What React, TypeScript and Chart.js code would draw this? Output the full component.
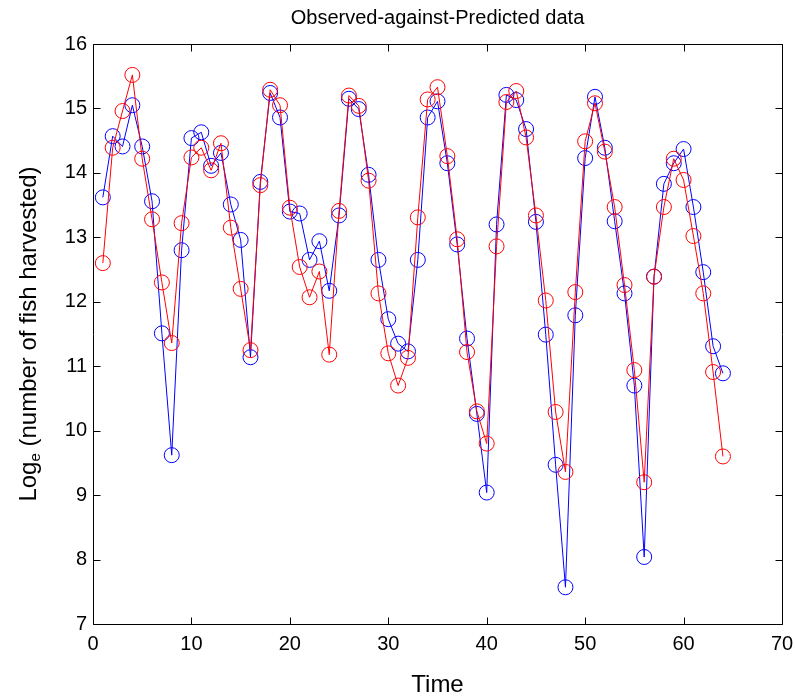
import React, { useEffect, useRef } from "react";
import { Chart, registerables } from "chart.js";

Chart.register(...registerables);

const timePoints = [
  1, 2, 3, 4, 5, 6, 7, 8, 9, 10, 11, 12, 13, 14, 15, 16, 17, 18, 19, 20, 21, 22, 23, 24, 25, 26, 27, 28, 29, 30, 31, 32,
  33, 34, 35, 36, 37, 38, 39, 40, 41, 42, 43, 44, 45, 46, 47, 48, 49, 50, 51, 52, 53, 54, 55, 56, 57, 58, 59, 60, 61,
  62, 63, 64,
];

const observed = [
  13.62, 14.57, 14.41, 15.05, 14.41, 13.56, 11.51, 9.62, 12.8, 14.54,
  14.63, 14.11, 14.31, 13.51, 12.96, 11.14, 13.86, 15.24, 14.86, 13.4,
  13.37, 12.65, 12.94, 12.17, 13.34, 15.15, 14.99, 13.97, 12.65, 11.73,
  11.35, 11.23, 12.65, 14.86, 15.11, 14.15, 12.89, 11.43, 10.26, 9.04,
  13.2, 15.21, 15.13, 14.68, 13.24, 11.49, 9.47, 7.57, 11.79, 14.23,
  15.18, 14.39, 13.25, 12.13, 10.7, 8.04, 12.39, 13.83, 14.15, 14.37,
  13.47, 12.46, 11.31, 10.89,
];

const predicted = [
  12.6, 14.39, 14.96, 15.52, 14.22, 13.28, 12.3, 11.36, 13.22, 14.24,
  14.39, 14.04, 14.46, 13.15, 12.2, 11.25, 13.81, 15.29, 15.05, 13.46,
  12.54, 12.07, 12.47, 11.18, 13.41, 15.2, 15.04, 13.88, 12.13, 11.2,
  10.7, 11.13, 13.31, 15.14, 15.33, 14.26, 12.97, 11.22, 10.3, 9.8,
  12.86, 15.1, 15.27, 14.55, 13.34, 12.02, 10.29, 9.36, 12.15, 14.49,
  15.08, 14.33, 13.47, 12.26, 10.94, 9.2, 12.39, 13.47, 14.22, 13.89,
  13.02, 12.13, 10.91, 9.6,
];

const xTicks = [0, 10, 20, 30, 40, 50, 60, 70];
const yTicks = [7, 8, 9, 10, 11, 12, 13, 14, 15, 16];

const titleText = "Observed-against-Predicted data";
const xTitle = "Time";
const yTitleMain = "Log";
const yTitleSub = "e";
const yTitleRest = " (number of fish harvested)";

const FONT = "'Liberation Sans', Arial, Helvetica, sans-serif";

const framePlugin = {
  id: "matlabFrame",
  afterDatasetsDraw(chart: any) {
    const { ctx, chartArea } = chart;
    const { left, right, top, bottom } = chartArea;
    const xs = chart.scales.x;
    const ys = chart.scales.y;
    ctx.save();
    ctx.strokeStyle = "#000";
    ctx.lineWidth = 1;
    ctx.beginPath();
    const L = Math.round(left) + 0.5;
    const R = Math.round(right) + 0.5;
    const T = Math.round(top) + 0.5;
    const B = Math.round(bottom) + 0.5;
    ctx.rect(L, T, R - L, B - T);
    const tl = 7;
    xTicks.forEach((v) => {
      const px = Math.round(xs.getPixelForValue(v)) + 0.5;
      ctx.moveTo(px, B);
      ctx.lineTo(px, B - tl);
      ctx.moveTo(px, T);
      ctx.lineTo(px, T + tl);
    });
    yTicks.forEach((v) => {
      const py = Math.round(ys.getPixelForValue(v)) + 0.5;
      ctx.moveTo(L, py);
      ctx.lineTo(L + tl, py);
      ctx.moveTo(R, py);
      ctx.lineTo(R - tl, py);
    });
    ctx.stroke();
    ctx.restore();
  },
  afterDraw(chart: any) {
    const { ctx, chartArea } = chart;
    ctx.save();
    ctx.fillStyle = "#000";
    ctx.font = `20px ${FONT}`;
    ctx.textAlign = "center";
    ctx.textBaseline = "middle";
    ctx.fillText(titleText, (chartArea.left + chartArea.right) / 2, 18);
    ctx.font = `24px ${FONT}`;
    ctx.fillText(xTitle, (chartArea.left + chartArea.right) / 2, 685);
    const mainFont = `24px ${FONT}`;
    const subFont = `15px ${FONT}`;
    ctx.font = mainFont;
    const w1 = ctx.measureText(yTitleMain).width;
    const w3 = ctx.measureText(yTitleRest).width;
    ctx.font = subFont;
    const w2 = ctx.measureText(yTitleSub).width;
    const total = w1 + w2 + w3;
    const cy = (chartArea.top + chartArea.bottom) / 2;
    ctx.translate(28, cy);
    ctx.rotate(-Math.PI / 2);
    ctx.textAlign = "left";
    ctx.textBaseline = "alphabetic";
    let x = -total / 2;
    const base = 8;
    ctx.font = mainFont;
    ctx.fillText(yTitleMain, x, base);
    x += w1;
    ctx.font = subFont;
    ctx.fillText(yTitleSub, x, base + 4);
    x += w2;
    ctx.font = mainFont;
    ctx.fillText(yTitleRest, x, base);
    ctx.restore();
  },
};

export default function App() {
  const canvasRef = useRef<HTMLCanvasElement | null>(null);

  useEffect(() => {
    if (!canvasRef.current) return;
    const toPts = (arr: number[]) => timePoints.map((t, i) => ({ x: t, y: arr[i] }));
    const chart = new Chart(canvasRef.current, {
      type: "line",
      data: {
        datasets: [
          {
            label: "Observed",
            data: toPts(observed),
            borderColor: "#0000ff",
            backgroundColor: "rgba(0,0,0,0)",
            borderWidth: 1,
            pointRadius: 7.5,
            pointBorderWidth: 1,
            pointBorderColor: "#0000ff",
            pointBackgroundColor: "rgba(0,0,0,0)",
            tension: 0,
            fill: false,
            order: 2,
          },
          {
            label: "Predicted",
            data: toPts(predicted),
            borderColor: "#ff0000",
            backgroundColor: "rgba(0,0,0,0)",
            borderWidth: 1,
            pointRadius: 7.5,
            pointBorderWidth: 1,
            pointBorderColor: "#ff0000",
            pointBackgroundColor: "rgba(0,0,0,0)",
            tension: 0,
            fill: false,
            order: 1,
          },
        ],
      },
      options: {
        animation: false,
        responsive: false,
        maintainAspectRatio: false,
        layout: { padding: { top: 44, right: 13, left: 0, bottom: 0 } },
        plugins: {
          legend: { display: false },
          tooltip: { enabled: false },
          title: { display: false },
        },
        scales: {
          x: {
            type: "linear",
            min: 0,
            max: 70,
            grid: { display: false, drawTicks: false },
            border: { display: false },
            afterFit: (scale: any) => {
              scale.height = 74;
              scale.paddingLeft = 0;
              scale.paddingRight = 0;
            },
            afterBuildTicks: (scale: any) => {
              scale.ticks = xTicks.map((v) => ({ value: v }));
            },
            ticks: {
              color: "#000",
              padding: 8,
              maxRotation: 0,
              font: { family: FONT, size: 20 },
            },
          },
          y: {
            type: "linear",
            min: 7,
            max: 16,
            grid: { display: false, drawTicks: false },
            border: { display: false },
            afterFit: (scale: any) => {
              scale.width = 93;
              scale.paddingTop = 0;
              scale.paddingBottom = 0;
            },
            afterBuildTicks: (scale: any) => {
              scale.ticks = yTicks.map((v) => ({ value: v }));
            },
            ticks: {
              color: "#000",
              padding: 6,
              font: { family: FONT, size: 20 },
            },
          },
        },
      },
      plugins: [framePlugin],
    });
    return () => chart.destroy();
  }, []);

  return (
    <div style={{ position: "fixed", left: 0, top: 0, width: 795, height: 698, background: "#fff" }}>
      <canvas ref={canvasRef} width={795} height={698} style={{ width: 795, height: 698 }} />
    </div>
  );
}
